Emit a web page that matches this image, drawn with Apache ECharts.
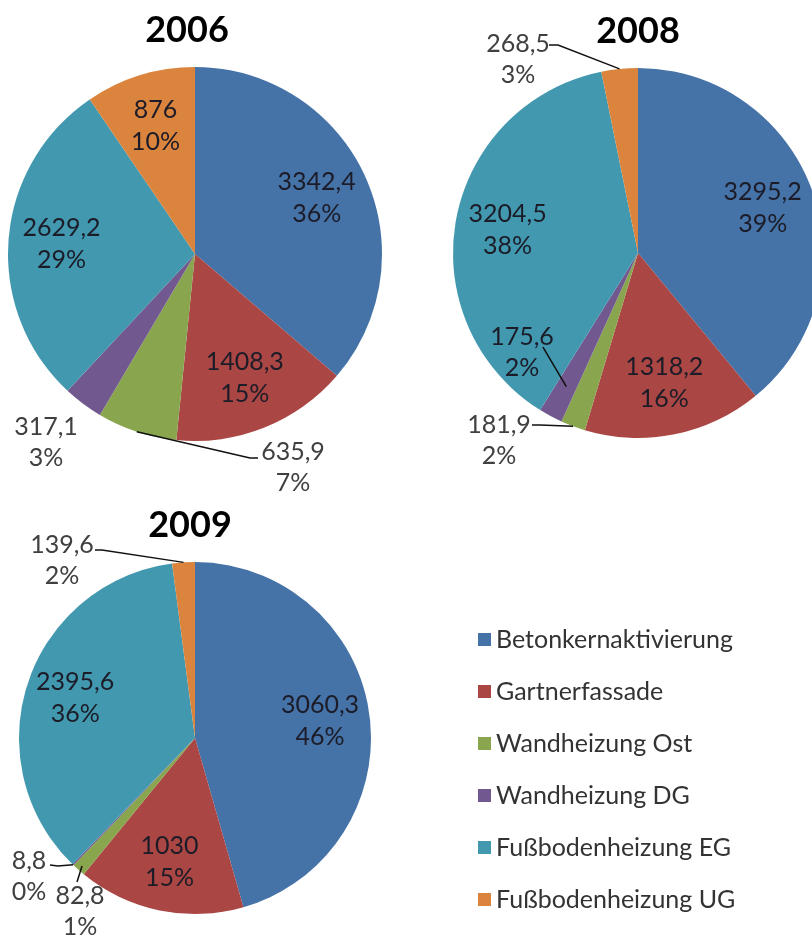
<!DOCTYPE html>
<html>
<head>
<meta charset="utf-8">
<script src="https://cdn.jsdelivr.net/npm/echarts@6/dist/echarts.min.js"></script>
<style>
  html, body { margin: 0; padding: 0; background: #fff; }
  #chart { width: 812px; height: 938px; }
</style>
</head>
<body>
<div id="chart"></div>
<script>
const names = ['Betonkernaktivierung', 'Gartnerfassade', 'Wandheizung Ost', 'Wandheizung DG', 'Fußbodenheizung EG', 'Fußbodenheizung UG'];
const colors = ['#4572A7', '#AA4643', '#89A54E', '#71588F', '#4198AF', '#DB843D'];
const years = ['2006', '2008', '2009'];
const values2006 = [3342.4, 1408.3, 635.9, 317.1, 2629.2, 876];
const values2008 = [3295.2, 1318.2, 181.9, 175.6, 3204.5, 268.5];
const values2009 = [3060.3, 1030, 82.8, 8.8, 2395.6, 139.6];

// where the small-slice labels go: block centre and leader line bend/end, relative to the pie centre
const outside2006 = {
    2: { dx: 98, dy: 213, bend: [55, 204], end: [63, 204], lineR: 1 },
    3: { dx: -149, dy: 188, noLine: true }
};
const outside2008 = {
    5: { dx: -120, dy: -194, bend: [-80, -208], end: [-89, -208], lineR: 1 },
    2: { dx: -139, dy: 187, bend: [-98, 172], end: [-106, 172], lineR: 1 },
    3: { dx: -116, dy: 99, bend: [-94, 96], end: [-95, 94], lineR: 0.82, dark: true }
};
const outside2009 = {
    5: { dx: -133, dy: -178, bend: [-93, -188], end: [-100, -188], lineR: 1 },
    3: { dx: -166, dy: 138, bend: [-137, 128], end: [-145, 127], lineR: 1 },
    2: { dx: -115, dy: 173, bend: [-118, 144], end: [-118, 144], lineR: 0.97 }
};

const pies = [
    { year: years[0], values: values2006, outside: outside2006, center: [195, 254], r: 187, titleX: 182 },
    { year: years[1], values: values2008, outside: outside2008, center: [638, 253], r: 185, titleX: 633 },
    { year: years[2], values: values2009, outside: outside2009, center: [195, 738], r: 176, titleX: 185 }
];

const font = 'Lato, "Open Sans", sans-serif';
const fmt = v => String(v).replace('.', ',');
const labelText = p => fmt(p.value) + '\n' + p.percent + '%';

// mid angle of slice i, clockwise from 12 o'clock, radians
function midAngle(values, i) {
    const total = values.reduce((a, b) => a + b, 0);
    let before = 0;
    for (let k = 0; k < i; k++) before += values[k];
    return (before + values[i] / 2) / total * Math.PI * 2;
}

const chart = echarts.init(document.getElementById('chart'), null, { renderer: 'canvas' });

const mainSeries = pies.map(p => ({
    type: 'pie',
    z: 2,
    center: p.center,
    radius: [0, p.r],
    startAngle: 90,
    silent: true,
    itemStyle: { borderWidth: 0 },
    label: { show: false },
    labelLine: { show: false },
    data: p.values.map((v, i) => ({
        name: names[i],
        value: v,
        itemStyle: { color: colors[i] }
    }))
}));

// transparent copy drawn on top: its larger radius puts inside labels at ~0.7 r, as Excel does,
// and it carries the leader lines of the small slices so they stay above every sector
const labelSeries = pies.map(p => ({
    type: 'pie',
    z: 5,
    center: p.center,
    radius: [0, p.r * 1.4],
    startAngle: 90,
    percentPrecision: 0,
    silent: true,
    avoidLabelOverlap: false,
    itemStyle: { color: 'rgba(0,0,0,0)', borderWidth: 0 },
    emphasis: { disabled: true },
    label: {
        show: true,
        position: 'inside',
        formatter: labelText,
        fontFamily: font,
        fontSize: 25,
        lineHeight: 32,
        color: '#1c1c28'
    },
    labelLine: {
        show: false,
        showAbove: true,
        length: 10,
        length2: 10,
        lineStyle: { color: '#111', width: 1.5 }
    },
    labelLayout: function (params) {
        const o = p.outside[params.dataIndex];
        if (!o) return {};
        const cx = p.center[0], cy = p.center[1];
        const res = { x: cx + o.dx, y: cy + o.dy, align: 'center', verticalAlign: 'middle' };
        if (!o.noLine) {
            const a = midAngle(p.values, params.dataIndex);
            const rr = p.r * o.lineR;
            res.labelLinePoints = [
                [cx + rr * Math.sin(a), cy - rr * Math.cos(a)],
                [cx + o.bend[0], cy + o.bend[1]],
                [cx + o.end[0], cy + o.end[1]]
            ];
        }
        return res;
    },
    data: p.values.map((v, i) => {
        const o = p.outside[i];
        const item = { name: names[i], value: v };
        if (o) {
            item.label = { position: 'outside', lineHeight: 31, color: o.dark ? '#1c1c28' : '#404040' };
            item.labelLine = { show: !o.noLine };
        }
        return item;
    })
}));

const option = {
    backgroundColor: '#fff',
    animation: false,
    title: pies.map(p => ({
        text: p.year,
        left: p.titleX,
        top: p.center[1] - p.r - 60,
        textAlign: 'center',
        textStyle: { fontFamily: font, fontSize: 36, fontWeight: 'bold', color: '#000' }
    })),
    legend: {
        orient: 'vertical',
        left: 473,
        top: 622,
        icon: 'rect',
        itemWidth: 13,
        itemHeight: 13,
        itemGap: 27,
        selectedMode: false,
        data: names,
        textStyle: { fontFamily: font, fontSize: 25, lineHeight: 24, color: '#333' }
    },
    series: mainSeries.concat(labelSeries)
};

chart.setOption(option);
</script>
</body>
</html>
